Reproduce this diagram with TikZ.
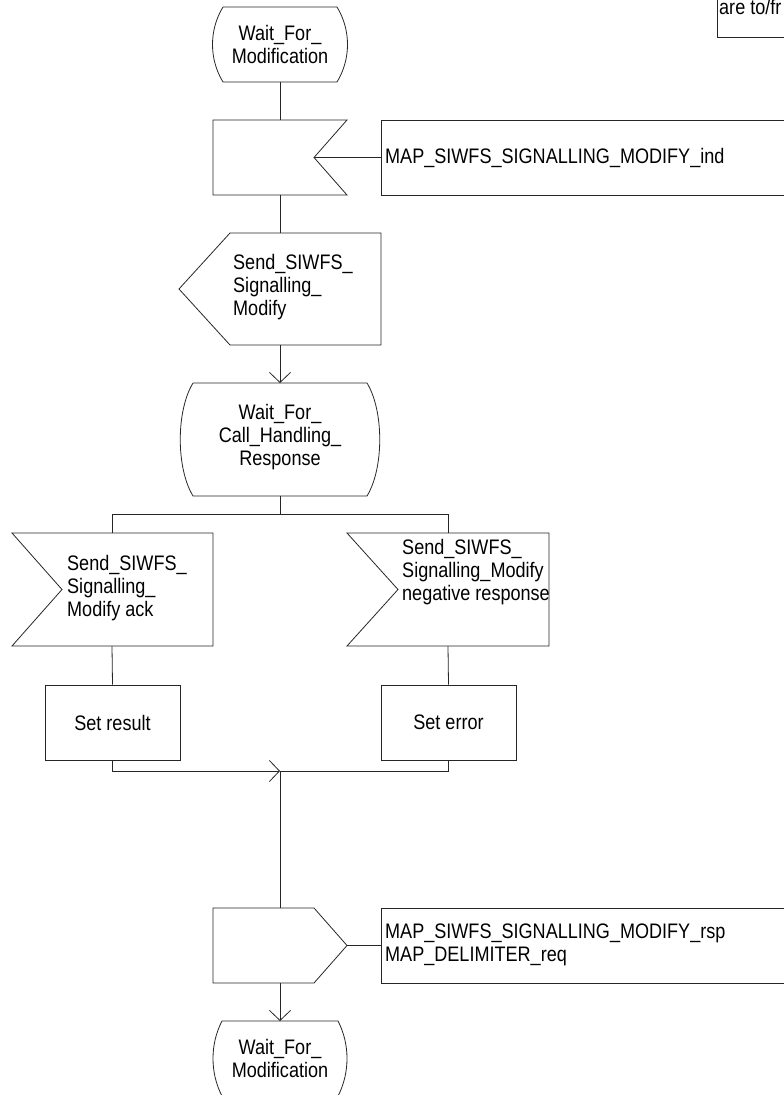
\documentclass[tikz,border=0pt]{standalone}
\usepackage{fontspec}
\setmainfont{Liberation Sans}[FakeStretch=0.86]
\usetikzlibrary{arrows.meta}
\begin{document}
\begin{tikzpicture}[x=1pt,y=-1pt,
  sdlbox/.style={draw=black!85, line width=0.8pt},
  conn/.style={draw=black!85, line width=0.8pt},
  arr/.style={conn, -{Straight Barb[length=10pt,width=21pt]}},
  lbl/.style={font=\fontsize{21}{23}\selectfont, inner sep=0pt, align=left},
  clbl/.style={lbl, align=center},
  taskbox/.style={sdlbox, minimum width=135pt, minimum height=75pt, inner sep=0pt, font=\fontsize{21}{23}\selectfont}]
\useasboundingbox (0,0) rectangle (784,1095);
\clip (0,0) rectangle (784,1095);

% top-right partial box
\draw[sdlbox] (717,-10) rectangle (800,37);
\node[lbl, anchor=base west] (note) at (719,14.5) {are to/fr};

% state 1
\draw[sdlbox] (223,7) -- (337,7) .. controls (351,30) and (351,59) .. (337,82) -- (223,82) .. controls (209,59) and (209,30) .. (223,7);
\node[clbl] (st1) at (280,44.5) {Wait\_For\_\\Modification};
\coordinate (st1b) at (280,82);

% input 1
\draw[sdlbox] (213,120) -- (347,120) -- (314,157.5) -- (347,195) -- (213,195) -- cycle;
\coordinate (in1t) at (280,120);
\coordinate (in1b) at (280,195);
\coordinate (in1n) at (314,157.5);
\draw[sdlbox] (381,120) rectangle (800,195);
\coordinate (m1l) at (381,157.5);
\node[lbl, anchor=west] (m1) at (385,157.5) {MAP\_SIWFS\_SIGNALLING\_MODIFY\_ind};
\draw[conn] (st1b) -- (in1t);
\draw[conn] (in1n) -- (m1l);

% output 1
\draw[sdlbox] (230,233) -- (381,233) -- (381,345) -- (230,345) -- (179,289) -- cycle;
\node[lbl, anchor=west] (o1) at (233,287) {Send\_SIWFS\_\\Signalling\_\\Modify};
\coordinate (o1t) at (280,233);
\coordinate (o1b) at (280,345);
\draw[conn] (in1b) -- (o1t);

% state 2
\draw[sdlbox] (193,383) -- (367,383) .. controls (384,411) and (384,468) .. (367,496) -- (193,496) .. controls (176,468) and (176,411) .. (193,383);
\node[clbl] (st2) at (280,437) {Wait\_For\_\\Call\_Handling\_\\Response};
\coordinate (st2t) at (280,383);
\coordinate (st2b) at (280,496);
\draw[arr] (o1b) -- (st2t);

% branch
\coordinate (br) at (280,514);
\coordinate (brl) at (112,514);
\coordinate (brr) at (448,514);
\coordinate (ackt) at (112,533);
\coordinate (negt) at (448,533);
\draw[conn] (st2b) -- (br);
\draw[conn] (brl) -- (brr);
\draw[conn] (brl) -- (ackt);
\draw[conn] (brr) -- (negt);

% inputs ack / negative
\draw[sdlbox] (12,533) -- (213,533) -- (213,646) -- (12,646) -- (62,589.5) -- cycle;
\node[lbl, anchor=west] (ack) at (67,588) {Send\_SIWFS\_\\Signalling\_\\Modify ack};
\draw[sdlbox] (347,533) -- (549,533) -- (549,646) -- (347,646) -- (398,589.5) -- cycle;
\node[lbl, anchor=west] (neg) at (402,572) {Send\_SIWFS\_\\Signalling\_Modify\\negative response};
\coordinate (ackb) at (112,646);
\coordinate (negb) at (448,646);

% tasks
\node[taskbox] (sr) at (112.5,722.5) {Set result};
\node[taskbox] (se) at (448.5,722.5) {Set error};
\draw[conn] (ackb) -- (sr.north);
\draw[conn] (negb) -- (se.north);

% merge
\coordinate (mrg) at (280,771);
\draw[arr] (sr.south) |- (mrg);
\draw[conn] (se.south) |- (mrg);

% output 2
\draw[sdlbox] (213,908) -- (314,908) -- (347,945.5) -- (314,983) -- (213,983) -- cycle;
\coordinate (o2t) at (280,908);
\coordinate (o2b) at (280,983);
\coordinate (o2n) at (347,945.5);
\draw[conn] (mrg) -- (o2t);
\draw[sdlbox] (381,908) rectangle (800,983);
\coordinate (m2l) at (381,945.5);
\node[lbl, anchor=west] (m2) at (385,945) {MAP\_SIWFS\_SIGNALLING\_MODIFY\_rsp\\MAP\_DELIMITER\_req};
\draw[conn] (o2n) -- (m2l);

% state 3
\draw[sdlbox] (222,1021) -- (338,1021) .. controls (350,1044) and (350,1073) .. (338,1096) -- (222,1096) .. controls (210,1073) and (210,1044) .. (222,1021);
\node[clbl] (st3) at (280,1058) {Wait\_For\_\\Modification};
\coordinate (st3t) at (280,1021);
\draw[arr] (o2b) -- (st3t);
\end{tikzpicture}
\end{document}
